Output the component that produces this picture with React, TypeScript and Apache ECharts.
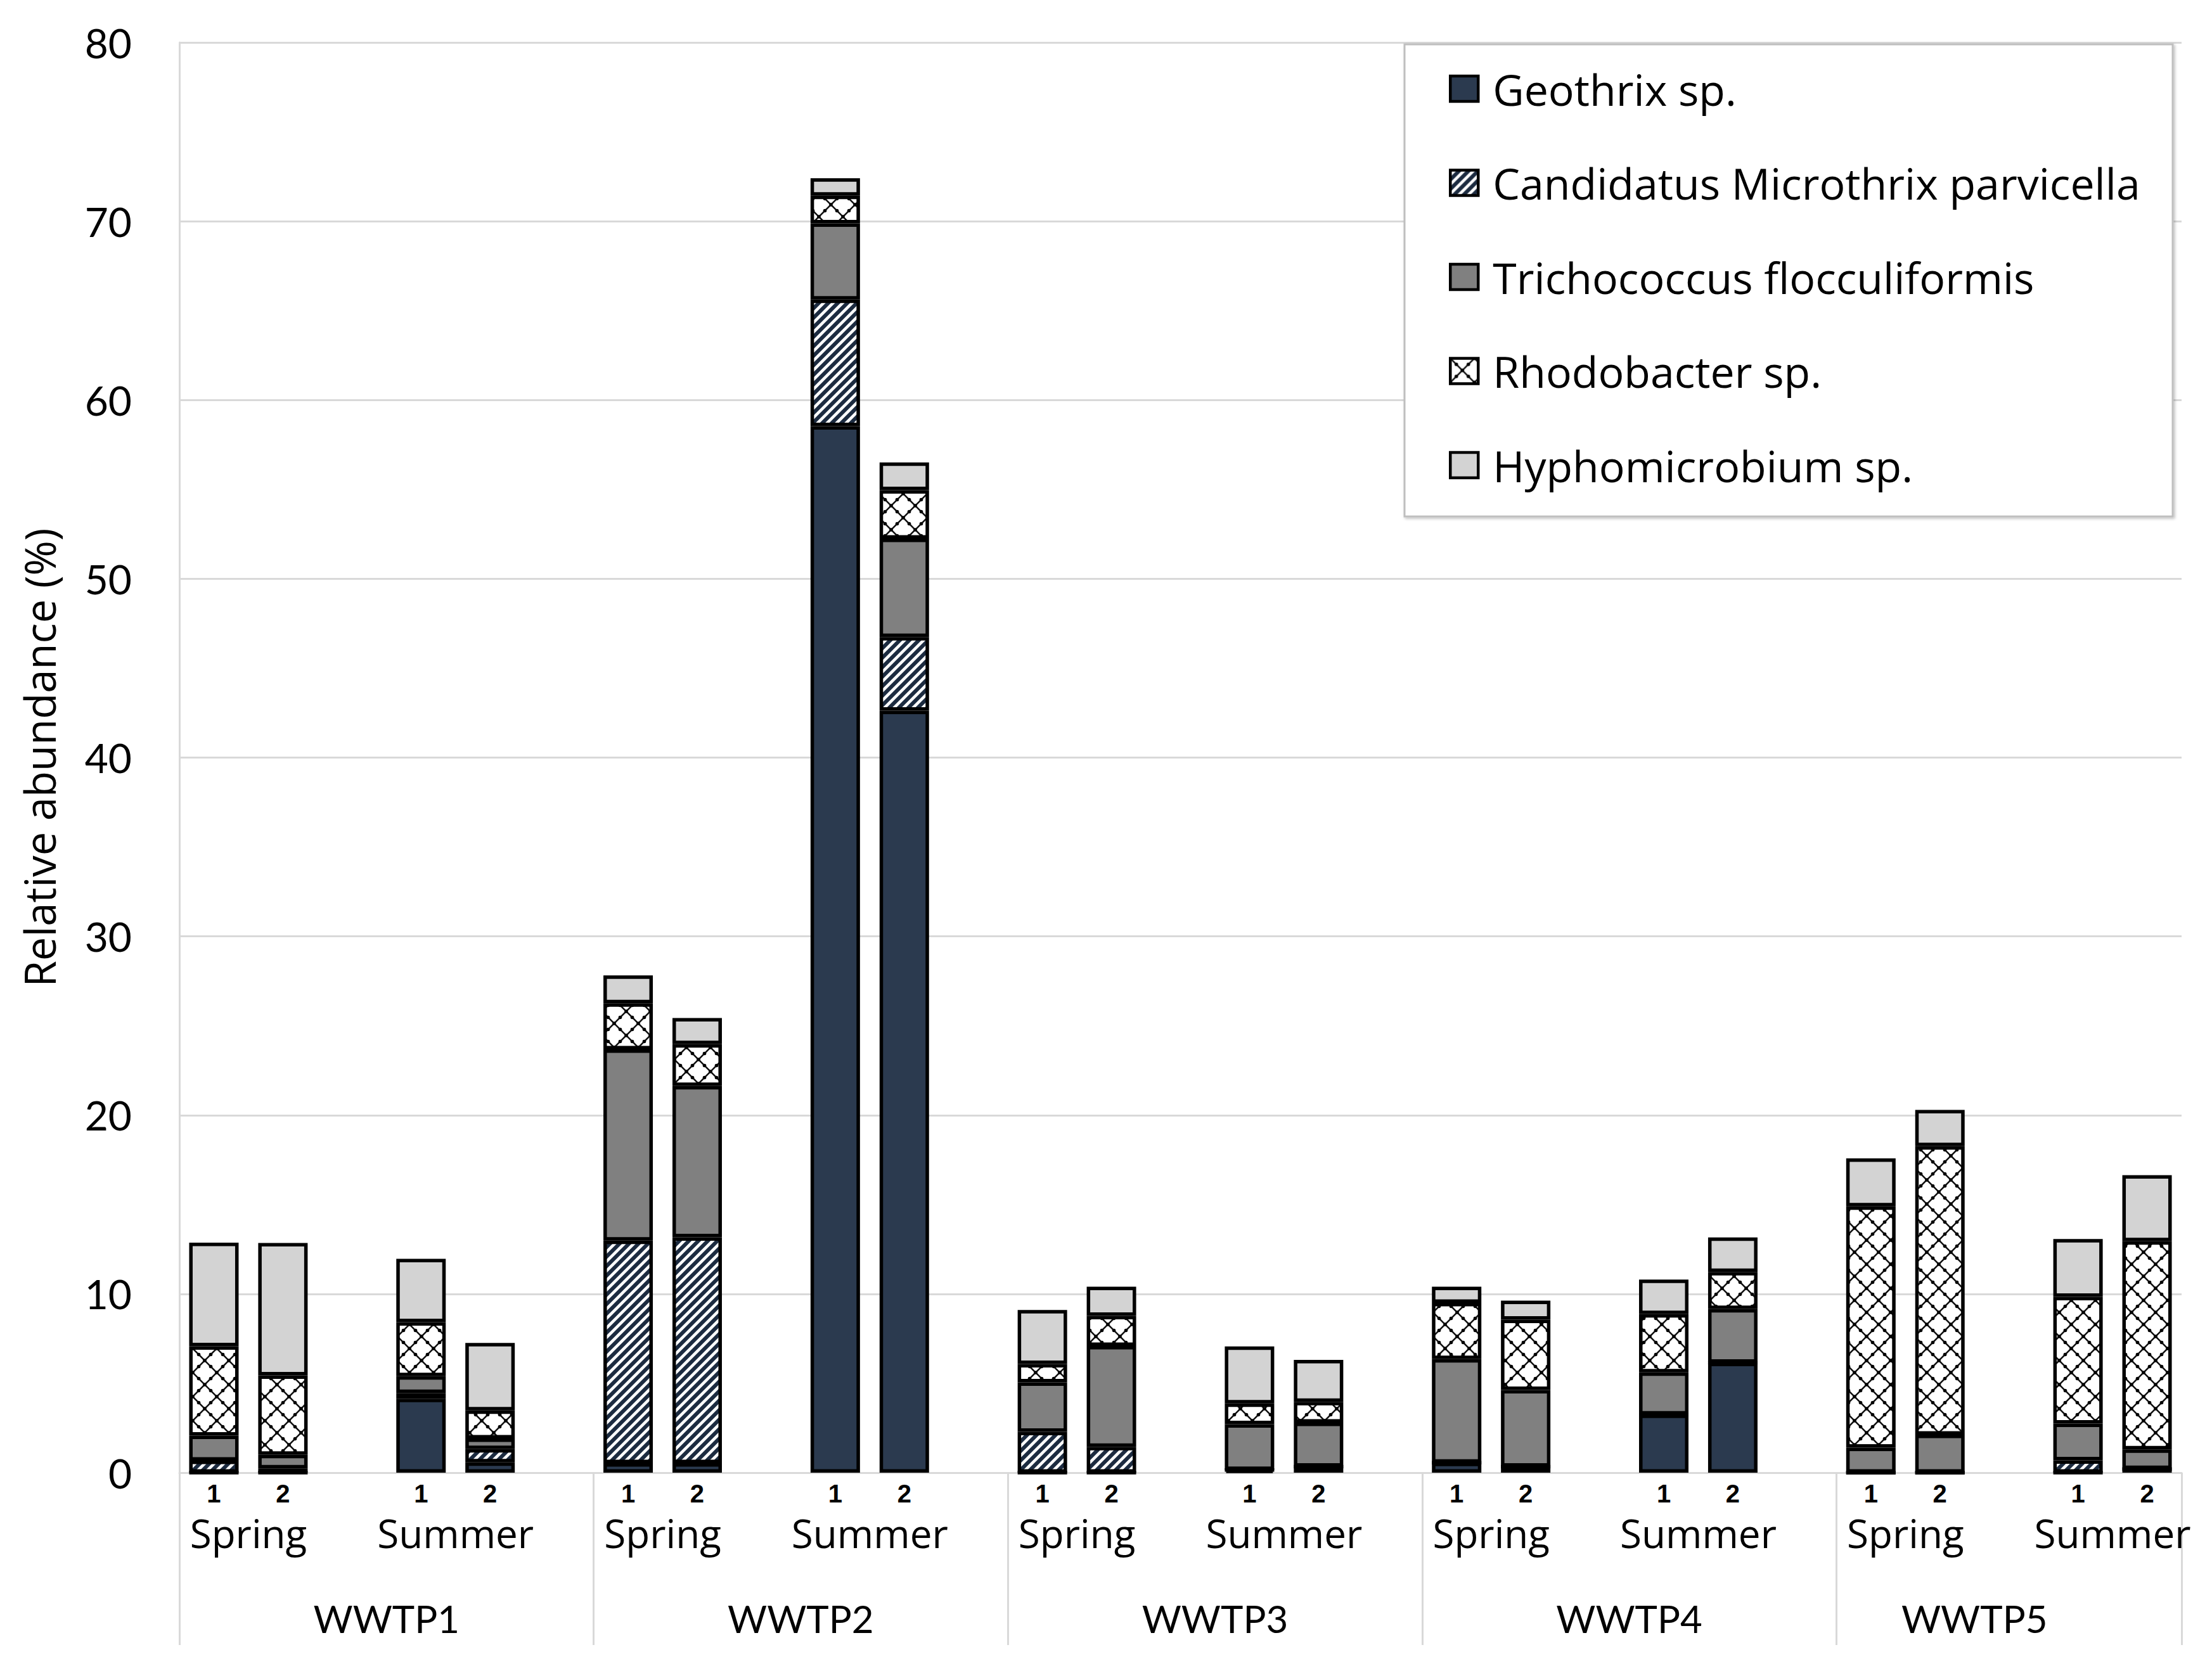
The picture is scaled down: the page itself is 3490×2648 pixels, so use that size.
import React, { useEffect, useRef } from "react";
import * as echarts from "echarts";

// ---- Data ----
const sampleIds = Array.from({ length: 29 }, (_, i) => "s" + i);
const sampleLabels = [
  "1", "2", "", "1", "2", "",
  "1", "2", "", "1", "2", "",
  "1", "2", "", "1", "2", "",
  "1", "2", "", "1", "2", "",
  "1", "2", "", "1", "2",
];
const positionIds = Array.from({ length: 30 }, (_, i) => "p" + i);
const seasonLabels = [
  "", "Spring", "", "", "Summer", "",
  "", "Spring", "", "", "Summer", "",
  "", "Spring", "", "", "Summer", "",
  "", "Spring", "", "", "Summer", "",
  "", "Spring", "", "", "Summer", "",
];
const plantLabels = [
  "", "", "", "WWTP1", "", "",
  "", "", "", "WWTP2", "", "",
  "", "", "", "WWTP3", "", "",
  "", "", "", "WWTP4", "", "",
  "", "", "WWTP5", "", "", "",
];
const dividerPositions = [0, 6, 12, 18, 24, 29];

const seriesNames = [
  "Geothrix sp.",
  "Candidatus Microthrix parvicella",
  "Trichococcus flocculiformis",
  "Rhodobacter sp.",
  "Hyphomicrobium sp.",
];

const geothrix = [0, 0, null, 4.14, 0.58, null, 0.53, 0.53, null, 58.54, 42.62, null, 0, 0, null, 0.15, 0.34, null, 0.56, 0.34, null, 3.25, 6.15, null, 0, 0, null, 0, 0.2];
const candidatus = [0.67, 0.24, null, 0.32, 0.74, null, 12.45, 12.64, null, 7.08, 4.12, null, 2.29, 1.44, null, 0, 0, null, 0, 0, null, 0, 0, null, 0, 0, null, 0.69, 0];
const trichococcus = [1.4, 0.76, null, 0.94, 0.59, null, 10.7, 8.46, null, 4.26, 5.51, null, 2.76, 5.65, null, 2.56, 2.46, null, 5.79, 4.29, null, 2.36, 3.0, null, 1.4, 2.13, null, 2.06, 1.1];
const rhodobacter = [5.0, 4.44, null, 3.02, 1.57, null, 2.58, 2.34, null, 1.55, 2.71, null, 1.03, 1.68, null, 1.16, 1.16, null, 3.15, 3.93, null, 3.26, 2.08, null, 13.5, 16.13, null, 7.09, 11.65];
const hyphomicrobium = [5.8, 7.41, null, 3.54, 3.78, null, 1.56, 1.46, null, 0.98, 1.55, null, 3.02, 1.63, null, 3.19, 2.35, null, 0.9, 1.06, null, 1.93, 1.93, null, 2.68, 2.03, null, 3.23, 3.69];

const yMin = 0;
const yMax = 80;
const yInterval = 10;

// ---- Styles ----
const FONT = "Lato, sans-serif";
const WIDE_FONT = "'Open Sans', sans-serif";
const GRID_GRAY = "#d9d9d9";

function makePattern(w: number, h: number, draw: (ctx: CanvasRenderingContext2D) => void) {
  const c = document.createElement("canvas");
  c.width = w;
  c.height = h;
  const ctx = c.getContext("2d") as CanvasRenderingContext2D;
  draw(ctx);
  return { image: c, repeat: "repeat", imageWidth: w, imageHeight: h } as any;
}

export default function App() {
  const ref = useRef<HTMLDivElement>(null);

  useEffect(() => {
    if (!ref.current) return;
    const chart = echarts.init(ref.current, undefined, { renderer: "svg" });

    const stripe = makePattern(15, 15, (ctx) => {
      ctx.fillStyle = "#ffffff";
      ctx.fillRect(0, 0, 15, 15);
      ctx.strokeStyle = "#1c2b40";
      ctx.lineWidth = 6;
      ctx.lineCap = "square";
      const segs = [
        [-7.5, 7.5, 7.5, -7.5],
        [0, 15, 15, 0],
        [7.5, 22.5, 22.5, 7.5],
      ];
      for (const s of segs) {
        ctx.beginPath();
        ctx.moveTo(s[0], s[1]);
        ctx.lineTo(s[2], s[3]);
        ctx.stroke();
      }
    });

    const lattice = makePattern(38, 38, (ctx) => {
      ctx.fillStyle = "#ffffff";
      ctx.fillRect(0, 0, 38, 38);
      ctx.strokeStyle = "#111111";
      ctx.lineWidth = 2.6;
      ctx.beginPath();
      ctx.moveTo(0, 0);
      ctx.lineTo(38, 38);
      ctx.moveTo(38, 0);
      ctx.lineTo(0, 38);
      ctx.stroke();
      ctx.fillStyle = "#000000";
      const dots = [
        [19, 19], [0, 0], [38, 0], [0, 38], [38, 38],
        [9.5, 9.5], [28.5, 9.5], [9.5, 28.5], [28.5, 28.5],
      ];
      for (const d of dots) {
        ctx.beginPath();
        ctx.arc(d[0], d[1], 2.8, 0, Math.PI * 2);
        ctx.fill();
      }
    });

    const fills = ["#2b3a4f", stripe, "#808080", lattice, "#d3d3d3"];
    const values = [geothrix, candidatus, trichococcus, rhodobacter, hyphomicrobium];

    const series = seriesNames.map((name, i) => ({
      name,
      type: "bar",
      stack: "total",
      xAxisIndex: 0,
      yAxisIndex: 0,
      barWidth: 78,
      data: values[i],
      itemStyle: { color: fills[i], borderColor: "#000000", borderWidth: 5.5 },
      emphasis: { disabled: true },
    }));

    const option: any = {
      animation: false,
      backgroundColor: "#ffffff",
      textStyle: { fontFamily: FONT },
      grid: { left: 283, right: 48, top: 67, bottom: 324, containLabel: false },
      graphic: [
        {
          type: "rect",
          z: 3,
          shape: { x: 2216, y: 70, width: 1212, height: 745 },
          style: {
            fill: "#ffffff",
            stroke: "#bfbfbf",
            lineWidth: 3,
            shadowBlur: 4,
            shadowOffsetX: 2,
            shadowOffsetY: 2,
            shadowColor: "rgba(0,0,0,0.25)",
          },
        },
      ],
      legend: {
        orient: "vertical",
        left: 2286,
        top: 106,
        padding: 0,
        z: 5,
        itemWidth: 44,
        itemHeight: 40,
        itemGap: 80.5,
        selectedMode: false,
        icon: "rect",
        itemStyle: { borderColor: "#000000", borderWidth: 4.5 },
        textStyle: {
          fontFamily: WIDE_FONT,
          fontSize: 68,
          lineHeight: 68,
          color: "#000000",
          padding: [0, 0, 0, 18],
        },
        data: seriesNames,
      },
      xAxis: [
        {
          type: "category",
          data: sampleIds,
          position: "bottom",
          boundaryGap: true,
          axisLine: { show: true, lineStyle: { color: GRID_GRAY, width: 3 } },
          axisTick: { show: false },
          splitLine: { show: false },
          axisLabel: {
            interval: 0,
            formatter: (_v: string, i: number) => sampleLabels[i],
            fontFamily: "Liberation Sans, Arial, sans-serif",
            fontWeight: "bold",
            fontSize: 40,
            lineHeight: 40,
            color: "#000000",
            margin: 13,
          },
        },
        {
          type: "category",
          data: positionIds,
          position: "bottom",
          boundaryGap: false,
          axisLine: { show: false },
          axisTick: { show: false },
          splitLine: { show: false },
          axisLabel: {
            interval: 0,
            formatter: (_v: string, i: number) => seasonLabels[i],
            fontFamily: WIDE_FONT,
            fontSize: 62,
            lineHeight: 62,
            color: "#000000",
            margin: 64,
          },
        },
        {
          type: "category",
          data: positionIds,
          position: "bottom",
          boundaryGap: false,
          axisLine: { show: false },
          axisTick: {
            show: true,
            interval: (i: number) => dividerPositions.indexOf(i) >= 0,
            length: 272,
            lineStyle: { color: GRID_GRAY, width: 3 },
          },
          splitLine: { show: false },
          axisLabel: {
            interval: 0,
            formatter: (_v: string, i: number) => plantLabels[i],
            fontFamily: FONT,
            fontSize: 60,
            color: "#000000",
            margin: 200,
          },
        },
      ],
      yAxis: {
        type: "value",
        min: yMin,
        max: yMax,
        interval: yInterval,
        axisLine: { show: true, lineStyle: { color: GRID_GRAY, width: 3 } },
        axisTick: { show: false },
        splitLine: { show: true, lineStyle: { color: GRID_GRAY, width: 3 } },
        axisLabel: { fontFamily: FONT, fontSize: 64, color: "#000000", margin: 75 },
        name: "Relative abundance (%)",
        nameLocation: "middle",
        nameGap: 188,
        nameTextStyle: { fontFamily: WIDE_FONT, fontSize: 67, color: "#000000" },
      },
      series,
    };

    chart.setOption(option);
    return () => chart.dispose();
  }, []);

  return (
    <div
      ref={ref}
      style={{ position: "absolute", left: 0, top: 0, width: 3490, height: 2648, background: "#fff" }}
    />
  );
}
